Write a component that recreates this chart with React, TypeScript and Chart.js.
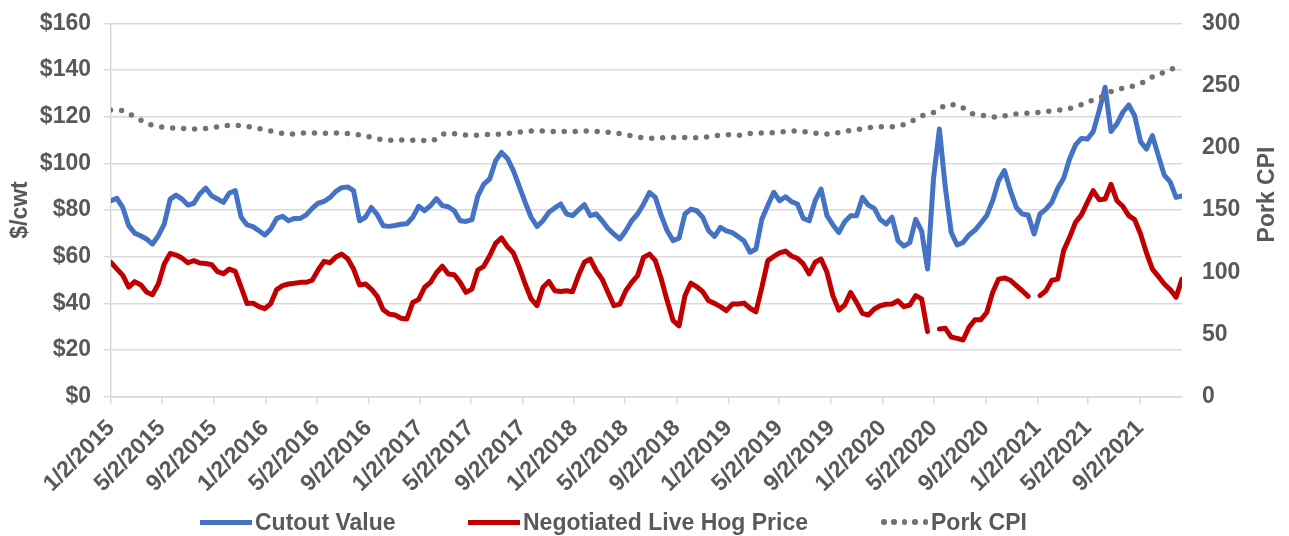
import React, { useEffect, useRef } from 'react';
import { Chart, registerables } from 'chart.js';

Chart.register(...registerables);

// ---------- data ----------
const startDate = '2015-01-02'; // first weekly observation (Friday)
const stepDays = 14; // sampling interval of the price series (bi-weekly)

const xTickLabels = [
  '1/2/2015', '5/2/2015', '9/2/2015',
  '1/2/2016', '5/2/2016', '9/2/2016',
  '1/2/2017', '5/2/2017', '9/2/2017',
  '1/2/2018', '5/2/2018', '9/2/2018',
  '1/2/2019', '5/2/2019', '9/2/2019',
  '1/2/2020', '5/2/2020', '9/2/2020',
  '1/2/2021', '5/2/2021', '9/2/2021',
];
const xEndLabel = '12/10/2021';

const cutoutValue = [
  84, 85, 81, 73.3, 70.1, 69, 67.6, 65.4, 69, 74,
  84.7, 86.4, 84.7, 82.1, 82.9, 86.9, 89.4, 86.1, 84.7, 83.3,
  87.3, 88.3, 76.9, 73.6, 72.9, 71.1, 69.3, 71.9, 76.4, 77.3,
  75.4, 76.4, 76.4, 77.9, 80.7, 82.9, 83.7, 85.3, 88, 89.6,
  89.9, 88.3, 75.4, 76.9, 81.1, 78, 73.3, 73, 73.4, 73.9,
  74.1, 76.9, 81.6, 79.7, 81.9, 84.9, 81.9, 81.4, 79.7, 75.4,
  75.1, 75.9, 86.1, 91.1, 93.3, 101.1, 104.7, 102.1, 96.9, 90.1,
  83.3, 76.9, 73, 75.4, 79, 80.9, 82.6, 78.3, 77.6, 80,
  82.3, 77.6, 78.3, 75.4, 72.1, 69.7, 67.6, 71.1, 75.4, 78.3,
  82.5, 87.5, 85.4, 77.6, 71.1, 66.9, 67.9, 78.3, 80.4, 79.7,
  76.9, 71.1, 68.7, 72.6, 71.1, 70.3, 68.6, 66.7, 61.9, 63.3,
  76.1, 81.9, 87.6, 84, 85.7, 83.6, 82.6, 76.4, 75.4, 84,
  89, 77.6, 73.6, 70.4, 75, 77.6, 77.6, 85.4, 82.1, 80.7,
  75.9, 74, 76.9, 66.9, 64.5, 66, 76, 71, 54.7, 93.3,
  114.7, 89.7, 70.4, 65, 66.1, 69.3, 71.3, 74.4, 77.6, 84,
  92.6, 96.9, 88.3, 81.1, 78.3, 77.9, 69.7, 78.3, 80.4, 83.3,
  89.3, 93.6, 101.9, 107.9, 110.7, 110.4, 113.6, 122.6, 132.6, 113.7,
  116.9, 121.9, 125, 120.4, 109.3, 106.1, 111.9, 103.3, 95, 92.1,
  85.4, 86.1,
];

const liveHogPrice = [
  57.6, 54.7, 52, 47, 49.3, 48, 44.9, 43.7, 48.3, 56.9,
  61.4, 60.7, 59.4, 57.4, 58.3, 57.3, 57.1, 56.6, 53.6, 52.7,
  54.7, 53.7, 46.9, 39.9, 40.1, 38.6, 37.7, 39.9, 45.9, 47.6,
  48.3, 48.6, 49, 49, 49.9, 54.3, 58, 57.4, 59.9, 61.1,
  59.1, 54.7, 47.9, 48.3, 46.1, 43, 37.3, 35.4, 35, 33.6,
  33.3, 40.4, 41.7, 46.9, 49, 53.1, 55.9, 52.6, 52.3, 49,
  44.7, 46.1, 54.3, 55.9, 60.4, 65.7, 68.1, 64.3, 61.6, 55.4,
  48.3, 41.9, 39, 46.9, 49.4, 45.4, 45.1, 45.4, 45, 51.9,
  57.6, 59, 54, 50.4, 44.7, 39, 39.7, 45.4, 49, 51.9,
  59.7, 61.1, 58.3, 50.4, 41.1, 32.6, 30.4, 43.3, 48.7, 47.1,
  45, 41.1, 40, 38.6, 36.9, 39.7, 39.7, 40.1, 37.9, 36.4,
  46.9, 58.3, 60.1, 61.6, 62.4, 60.3, 59.3, 56.9, 52.6, 57.6,
  59, 53.3, 43.3, 37.1, 39.3, 44.7, 40.4, 35.7, 35, 37.6,
  39, 39.6, 39.7, 41.1, 38.6, 39.3, 43.3, 41.9, 27.9, null,
  29, 29.3, 25.6, 25, 24.3, 29.7, 33, 33, 36.1, 44.7,
  50.4, 50.9, 49.9, 47.6, 45.4, 43, null, 43.3, 45.4, 49.9,
  50.4, 62.6, 68.3, 74.7, 77.9, 83.3, 88.3, 84.4, 84.7, 91,
  84, 81.6, 77.6, 75.9, 69.7, 61.6, 54.7, 51.6, 48.3, 45.9,
  42.6, 50.4,
];

// monthly, Jan 2015 .. Dec 2021
const cpiStartMonth = '2015-01-01';
const porkCPI = [
  230.4, 230, 224.5, 218.8, 216.8, 215.8, 215.4, 214.9, 216.2, 218, 218, 216.6,
  214.5, 212.2, 210.8, 211.9, 212, 211.6, 212, 211, 209, 206.7, 206, 206.3,
  206, 205.5, 211.5, 211.1, 209.8, 210.6, 210.8, 211.6, 212.8, 213.8, 213.2, 213,
  213, 213.6, 213, 212.2, 210.8, 208.6, 207.6, 208.1, 208.3, 208.2, 208, 209.8,
  210.4, 210, 211.9, 211.9, 212.5, 213.5, 213, 211.6, 210.8, 213, 214.6, 216.2,
  217, 217, 219.5, 225.5, 228.3, 235, 234, 227.3, 225.8, 224.4, 226.9, 227.5,
  228.3, 229.6, 230.6, 232.5, 236.8, 240.6, 246.2, 248.4, 251, 257, 261.2, 265.5,
];

// ---------- helpers ----------
const DAY_MS = 86400000;
const parseISO = (s: string) => {
  const [y, m, d] = s.split('-').map(Number);
  return Date.UTC(y, m - 1, d);
};
const parseMDY = (s: string) => {
  const [m, d, y] = s.split('/').map(Number);
  return Date.UTC(y, m - 1, d);
};
const START_MS = parseISO(startDate);
const toDay = (ms: number) => Math.round((ms - START_MS) / DAY_MS);
const tickDays = xTickLabels.map((l) => toDay(parseMDY(l)));
const endDay = toDay(parseMDY(xEndLabel));

const cpiStart = parseISO(cpiStartMonth);
const cpiDays = porkCPI.map((_, i) => {
  const d = new Date(cpiStart);
  return toDay(Date.UTC(d.getUTCFullYear(), d.getUTCMonth() + i, 1));
});

const FONT_FAMILY = '"Liberation Sans", Arial, Helvetica, sans-serif';
const FONT_SIZE = 23;
const TEXT = '#595959';
const GRID = '#d9d9d9';
const BLUE = '#4472C4';
const RED = '#C00000';
const GREY = '#767171';

const rightTitlePlugin = {
  id: 'rightTitle',
  afterDraw(chart: any) {
    const s = chart.scales.y1;
    if (!s) return;
    const ctx = chart.ctx;
    ctx.save();
    ctx.translate(s.right - 21.5, 194.5);
    ctx.rotate(-Math.PI / 2);
    ctx.font = `bold ${FONT_SIZE}px ${FONT_FAMILY}`;
    ctx.fillStyle = TEXT;
    ctx.textAlign = 'center';
    ctx.textBaseline = 'middle';
    ctx.fillText('Pork CPI', 0, 0);
    ctx.restore();
  },
};

export default function App() {
  const canvasRef = useRef<HTMLCanvasElement | null>(null);

  useEffect(() => {
    if (!canvasRef.current) return;
    const font = { family: FONT_FAMILY, size: FONT_SIZE, weight: 'bold' as const };
    const yFont = { family: FONT_FAMILY, size: FONT_SIZE, weight: 'bold' as const, lineHeight: 0.9 };
    const chart = new Chart(canvasRef.current, {
      type: 'line',
      data: {
        datasets: [
          {
            label: 'Cutout Value',
            data: cutoutValue.map((v, i) => ({ x: i * stepDays, y: v })),
            borderColor: BLUE,
            borderWidth: 5,
            pointRadius: 0,
            tension: 0,
            yAxisID: 'y',
            order: 3,
            borderJoinStyle: 'round',
            borderCapStyle: 'round',
          },
          {
            label: 'Negotiated Live Hog Price',
            data: liveHogPrice.map((v, i) => ({ x: i * stepDays, y: v })),
            borderColor: RED,
            borderWidth: 5,
            pointRadius: 0,
            tension: 0,
            spanGaps: false,
            yAxisID: 'y',
            order: 2,
            borderJoinStyle: 'round',
            borderCapStyle: 'round',
          },
          {
            label: 'Pork CPI',
            data: porkCPI.map((v, i) => ({ x: cpiDays[i], y: v })),
            borderColor: GREY,
            borderWidth: 5.5,
            borderDash: [0, 11],
            borderCapStyle: 'round',
            pointRadius: 0,
            tension: 0,
            yAxisID: 'y1',
            order: 1,
          },
        ] as any,
      },
      options: {
        animation: false,
        responsive: false,
        maintainAspectRatio: false,
        layout: { padding: { top: 23.3, left: 0, right: 0, bottom: 0 } },
        plugins: {
          legend: { display: false },
          tooltip: { enabled: false },
        },
        scales: {
          x: {
            type: 'linear',
            min: 0,
            max: endDay,
            bounds: 'data',
            afterBuildTicks: (s: any) => {
              s.ticks = tickDays.map((v) => ({ value: v }));
            },
            afterFit: (s: any) => {
              s.height = 139.3;
            },
            grid: {
              drawOnChartArea: false,
              drawTicks: true,
              tickLength: 7,
              color: GRID,
              lineWidth: 1.5,
            },
            border: { color: GRID, width: 1.5 },
            ticks: {
              autoSkip: false,
              minRotation: 45,
              maxRotation: 45,
              padding: 11,
              color: TEXT,
              font,
              callback: (_v: any, i: number) => xTickLabels[i],
            },
          },
          y: {
            position: 'left',
            min: 0,
            max: 160,
            afterFit: (s: any) => {
              s.width = 111;
            },
            grid: { color: GRID, lineWidth: 1.5, tickLength: 7 },
            border: { color: GRID, width: 1.5 },
            ticks: {
              stepSize: 20,
              padding: 13,
              color: TEXT,
              font: yFont,
              callback: (v: any) => '$' + v,
            },
            title: {
              display: true,
              text: '$/cwt',
              color: TEXT,
              font,
              padding: { top: 7, bottom: 0 },
            },
          },
          y1: {
            position: 'right',
            min: 0,
            max: 300,
            afterFit: (s: any) => {
              s.width = 107;
            },
            grid: {
              drawOnChartArea: false,
              drawTicks: true,
              tickLength: 18,
              color: 'rgba(0,0,0,0)',
            },
            border: { display: false },
            ticks: { stepSize: 50, padding: 2, color: TEXT, font: yFont },
          },
        },
      } as any,
      plugins: [rightTitlePlugin],
    });
    return () => chart.destroy();
  }, []);

  const legendText: React.CSSProperties = {
    fontFamily: FONT_FAMILY,
    fontWeight: 'bold',
    fontSize: FONT_SIZE,
    color: TEXT,
    marginLeft: 3,
    whiteSpace: 'nowrap',
    lineHeight: '26px',
  };
  const item = (left: number): React.CSSProperties => ({
    position: 'absolute',
    left,
    top: 509,
    height: 26,
    display: 'flex',
    alignItems: 'center',
  });

  return (
    <div style={{ position: 'absolute', left: 0, top: 0, width: 1289, height: 536, background: '#fff' }}>
      <canvas ref={canvasRef} width={1289} height={536} style={{ display: 'block', width: 1289, height: 536 }} />
      <div style={item(200)}>
        <div style={{ width: 52, height: 5, background: BLUE }} />
        <span style={legendText}>Cutout Value</span>
      </div>
      <div style={item(468)}>
        <div style={{ width: 52, height: 5, background: RED }} />
        <span style={legendText}>Negotiated Live Hog Price</span>
      </div>
      <div style={item(881)}>
        <div style={{ display: 'flex', width: 47, justifyContent: 'space-between' }}>
          {[0, 1, 2, 3, 4].map((k) => (
            <div key={k} style={{ width: 5.5, height: 5.5, borderRadius: '50%', background: GREY }} />
          ))}
        </div>
        <span style={legendText}>Pork CPI</span>
      </div>
    </div>
  );
}
